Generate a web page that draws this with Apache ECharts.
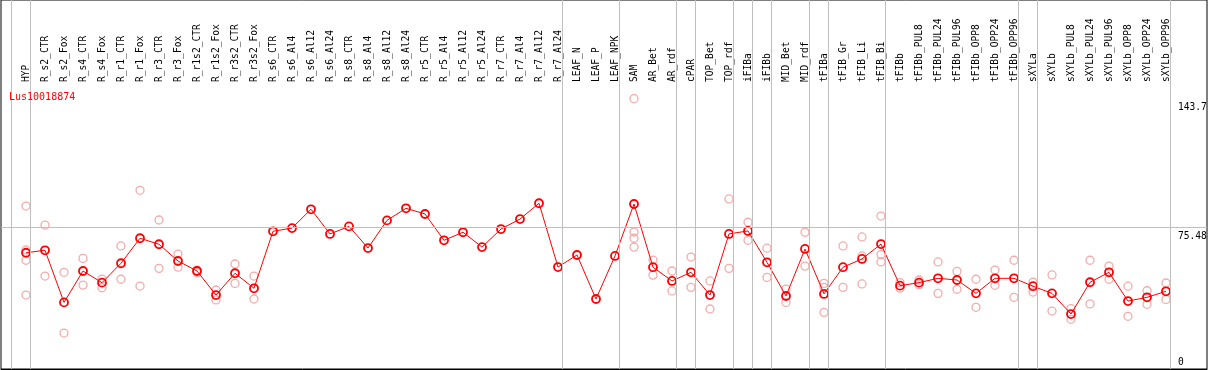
<!DOCTYPE html>
<html>
<head>
<meta charset="utf-8">
<script src="https://cdn.jsdelivr.net/npm/echarts@6/dist/echarts.min.js"></script>
<style>
html,body{margin:0;padding:0;background:#fff;}
#chart{width:1209px;height:370px;}
</style>
</head>
<body>
<div id="chart"></div>
<script>
const geneLabel = 'Lus10018874';
const categories = ['HYP','R_s2_CTR','R_s2_Fox','R_s4_CTR','R_s4_Fox','R_r1_CTR','R_r1_Fox','R_r3_CTR','R_r3_Fox','R_r1s2_CTR','R_r1s2_Fox','R_r3s2_CTR','R_r3s2_Fox','R_s6_CTR','R_s6_Al4','R_s6_Al12','R_s6_Al24','R_s8_CTR','R_s8_Al4','R_s8_Al12','R_s8_Al24','R_r5_CTR','R_r5_Al4','R_r5_Al12','R_r5_Al24','R_r7_CTR','R_r7_Al4','R_r7_Al12','R_r7_Al24','LEAF_N','LEAF_P','LEAF_NPK','SAM','AR_Bet','AR_rdf','cPAR','TOP_Bet','TOP_rdf','iFIBa','iFIBb','MID_Bet','MID_rdf','tFIBa','tFIB_Gr','tFIB_Li','tFIB_Bi','tFIBb','tFIBb_PUL8','tFIBb_PUL24','tFIBb_PUL96','tFIBb_OPP8','tFIBb_OPP24','tFIBb_OPP96','sXYLa','sXYLb','sXYLb_PUL8','sXYLb_PUL24','sXYLb_PUL96','sXYLb_OPP8','sXYLb_OPP24','sXYLb_OPP96'];
const meanValues = [61.8,63.1,35.4,52.1,45.9,56.2,69.5,66.3,57.4,52.1,39.3,50.9,42.9,73.2,74.9,84.9,71.8,75.8,64.3,79.0,85.4,82.4,68.4,72.7,64.8,74.4,79.7,88.1,54.2,60.6,37.2,60.1,87.7,54.1,46.8,51.4,39.3,71.8,73.4,56.7,38.8,63.8,39.9,54.1,58.5,66.4,44.3,45.9,48.2,47.3,40.2,48.2,48.2,44.0,40.2,29.2,46.1,51.4,36.1,38.1,41.3];
const replicateValues = [
  [86.6,63.3,57.8,39.3],[76.5,49.4],[51.4,19.1],[58.8,44.6],[47.8,43.2],[65.4,47.7],[95.0,44.1],[79.2,53.5],[61.1,54.1],[52.6,51.2],[42.0,36.7],[55.8,45.5],[49.4,37.2],
  [],[],[],[],[],[],[],[],[],[],[],[],[],[],[],[],[],[],[],
  [143.7,72.8,69.5,64.8],[57.9,49.9],[52.1,41.5],[59.5,43.4],[46.8,31.9],[90.4,53.5],[78.0,68.4],[64.2,48.7],[42.5,35.4],[72.7,54.7],[45.5,43.4,30.1],[65.4,43.4],[70.2,60.1,45.2],[81.3,60.8,56.9],
  [45.9,43.0],[47.3,44.8],[56.9,40.2],[51.9,42.4],[47.7,32.8],[52.6,44.5],[57.8,38.1],[46.1,40.9],[50.0,30.8],[32.1,26.4],[57.8,34.6],[54.7,47.7],[44.0,28.0],[41.6,34.4],[45.7,37.0]
];
const groupEndIndex = [-1,0,28,31,34,35,37,38,39,41,42,45,52,53,60];
const yTopLabels = [75.48, 143.7];
const yBottomLabels = [0];
const yMax = 150.96;
const midLine = 75.48;

const xMin = -25/19, xMax = 1181/19;
const mono = 'DejaVu Sans Mono';

const meanData = meanValues.map((v,i)=>[i,v]);
const repData = [];
replicateValues.forEach((arr,i)=>arr.forEach(v=>repData.push([i,v])));

const chart = echarts.init(document.getElementById('chart'), null, {renderer:'canvas'});
chart.setOption({
  animation:false,
  backgroundColor:'#fff',
  title:{text:geneLabel,left:9,top:92,padding:0,textStyle:{color:'#ff0000',fontFamily:mono,fontSize:10,fontWeight:'normal'}},
  grid:[
    {left:1,right:2,top:0,bottom:1,show:true,borderColor:'#000',borderWidth:1,backgroundColor:'transparent',outerBoundsMode:'none'},
    {left:1,right:2,top:85,bottom:1,outerBoundsMode:'none'}
  ],
  xAxis:[
    {gridIndex:0,type:'value',min:xMin,max:xMax,show:false},
    {gridIndex:1,type:'value',min:xMin,max:xMax,position:'top',
     axisLine:{show:true,lineStyle:{color:'#000',width:1}},axisTick:{show:false},splitLine:{show:false},
     axisLabel:{customValues:categories.map((c,i)=>i),formatter:v=>categories[Math.round(v)]||'',rotate:90,margin:3,
       fontFamily:mono,fontSize:9.6,color:'#000'}}
  ],
  yAxis:[
    {gridIndex:0,type:'value',min:0,max:1,show:false},
    {gridIndex:1,type:'value',min:0,max:yMax,position:'right',axisLine:{show:false},axisTick:{show:false},splitLine:{show:false},
     axisLabel:{customValues:yTopLabels,formatter:v=>String(v),verticalAlign:'top',align:'left',margin:-29,fontFamily:mono,fontSize:9.6,color:'#000',padding:[4,0,0,0]}},
    {gridIndex:1,type:'value',min:0,max:yMax,position:'right',axisLine:{show:false},axisTick:{show:false},splitLine:{show:false},
     axisLabel:{customValues:yBottomLabels,formatter:v=>String(v),verticalAlign:'bottom',align:'left',margin:-29,fontFamily:mono,fontSize:9.6,color:'#000',padding:[0,0,2,0]}}
  ],
  series:[
    {type:'scatter',xAxisIndex:0,yAxisIndex:0,data:[],silent:true,z:1,
     markLine:{silent:true,symbol:['none','none'],label:{show:false},animation:false,
       lineStyle:{color:'#c0c0c0',width:1,type:'solid'},
       data:groupEndIndex.map(i=>({xAxis:i+0.24}))}},
    {type:'scatter',xAxisIndex:1,yAxisIndex:1,data:[],silent:true,z:1,
     markLine:{silent:true,symbol:['none','none'],label:{show:false},animation:false,
       lineStyle:{color:'#c0c0c0',width:1,type:'solid'},data:[{yAxis:midLine}]}},
    {type:'scatter',name:'replicates',xAxisIndex:1,yAxisIndex:1,data:repData,z:2,
     symbol:'circle',symbolSize:8,
     itemStyle:{color:'rgba(0,0,0,0)',borderColor:'#f09696',borderWidth:1.3}},
    {type:'line',name:'mean',xAxisIndex:1,yAxisIndex:1,data:meanData,z:3,
     symbol:'circle',symbolSize:8,showAllSymbol:true,
     lineStyle:{color:'#ff0000',width:1},
     itemStyle:{color:'rgba(0,0,0,0)',borderColor:'#ff0000',borderWidth:1.8}}
  ]
});
</script>
</body>
</html>
